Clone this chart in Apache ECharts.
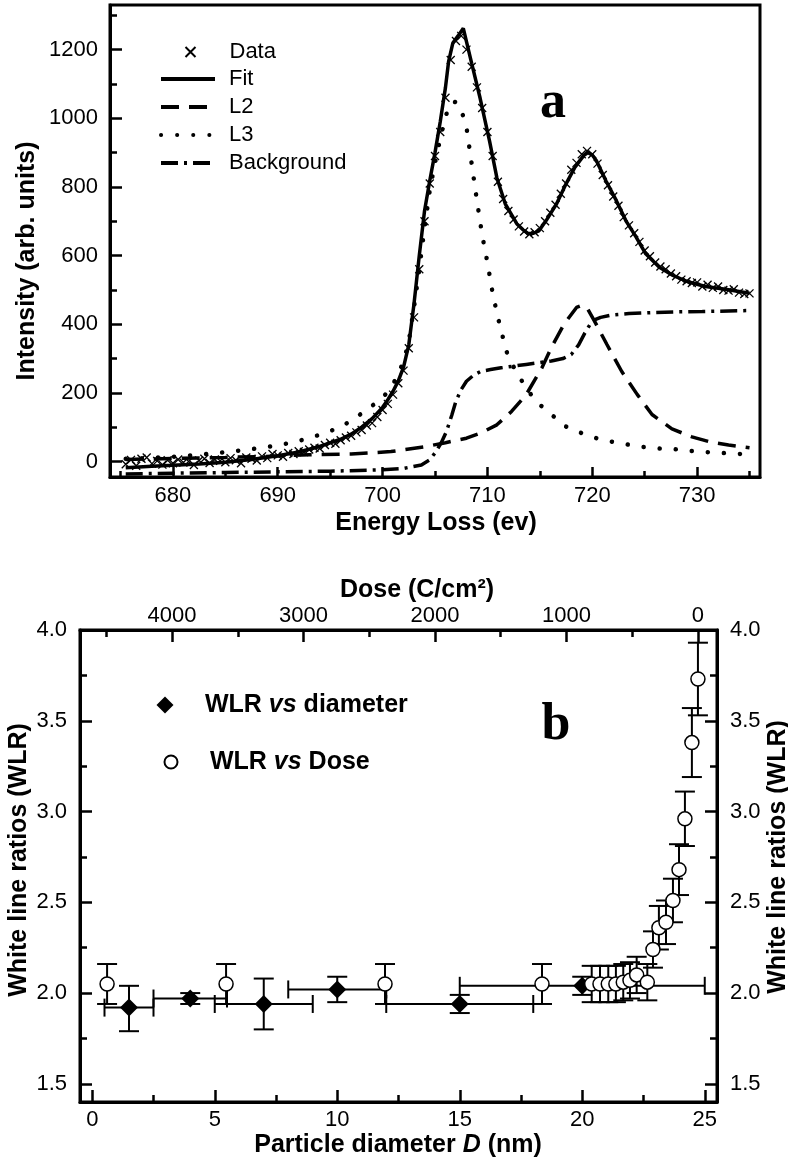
<!DOCTYPE html>
<html>
<head>
<meta charset="utf-8">
<script src="https://cdn.jsdelivr.net/npm/echarts@6/dist/echarts.min.js"></script>
<style>
  html, body { margin: 0; padding: 0; background: #fff; }
  #chart { width: 788px; height: 1161px; }
</style>
</head>
<body>
<div id="chart"></div>
<script>
// ---------- panel a : EELS L2,3 edge ----------
// measured points (x markers)
const dataE = [675.5, 676, 676.5, 677, 677.5, 678, 678.5, 679, 679.5, 680,
  680.5, 681, 681.5, 682, 682.5, 683, 683.5, 684, 684.5, 685,
  685.5, 686, 686.5, 687, 687.5, 688, 688.5, 689, 689.5, 690,
  690.5, 691, 691.5, 692, 692.5, 693, 693.5, 694, 694.5, 695,
  695.5, 696, 696.5, 697, 697.5, 698, 698.5, 699, 699.5, 700,
  700.5, 701, 701.5, 702, 702.5, 703, 703.5, 704, 704.5, 705,
  705.5, 706, 706.5, 707, 707.5, 708, 708.5, 709, 709.5, 710,
  710.5, 711, 711.5, 712, 712.5, 713, 713.5, 714, 714.5, 715,
  715.5, 716, 716.5, 717, 717.5, 718, 718.5, 719, 719.5, 720,
  720.5, 721, 721.5, 722, 722.5, 723, 723.5, 724, 724.5, 725,
  725.5, 726, 726.5, 727, 727.5, 728, 728.5, 729, 729.5, 730,
  730.5, 731, 731.5, 732, 732.5, 733, 733.5, 734, 734.5, 735];
const dataI = [-8, 5, -12, 8, 12, -6, 2, -9, 4, -5,
  6, -3, 0, -10, 3, 8, -4, 6, 2, -2,
  10, 4, -5, 12, 8, 3, 15, 10, 22, 18,
  14, 25, 22, 30, 28, 35, 40, 38, 48, 55,
  52, 62, 70, 75, 85, 92, 105, 112, 130, 150,
  168, 195, 228, 265, 330, 420, 560, 700, 810, 890,
  960, 1060, 1170, 1225, 1240, 1200, 1150, 1090, 1030, 960,
  890, 815, 765, 730, 705, 685, 670, 662, 668, 680,
  700, 725, 748, 780, 810, 850, 870, 895, 905, 895,
  868, 835, 805, 772, 745, 712, 688, 665, 640, 615,
  598, 580, 568, 560, 548, 540, 530, 525, 520, 522,
  510, 515, 506, 510, 500, 498, 502, 492, 488, 490];

// fit (solid)
const fitE = [675.5, 678, 680, 682.5, 685, 687.5, 690, 692, 694, 696, 697, 698, 699, 700, 700.5,
  701, 701.5, 702, 702.5, 703, 703.5, 704, 704.5, 705, 705.5, 706, 706.3, 706.7, 707.2, 707.7,
  708.5, 709.3, 710.2, 710.9, 711.7, 712.8, 713.4, 713.9, 714.4, 714.9,
  715.6, 716.6, 717.5, 718.3, 718.8, 719.2, 719.6, 720, 720.4, 721.3, 722.3, 723.2, 724.2,
  725.1, 726.4, 727.7, 729.2, 730.8, 732.7, 735];
const fitI = [-18, -14, -11, -7, -2, 6, 17, 28, 44, 65, 80, 100, 125, 158, 180,
  205, 235, 275, 340, 460, 600, 730, 818, 900, 990, 1090, 1166, 1219, 1240, 1262,
  1160, 1059, 934, 827, 751, 693, 675, 664, 665, 672,
  702, 751, 809, 855, 876, 892, 900, 893, 876, 818, 760, 702, 653,
  605, 566, 542, 523, 510, 502, 490];

// L2 (dashed)
const l2E = [675.5, 680, 685, 690, 693, 697, 700.8, 704.2, 706, 708,
  709.5, 710.9, 712.3, 713.7, 715.2, 716.1, 717.3, 718.5, 719, 719.5,
  720.2, 721.4, 722.8, 724.3, 725.7, 727.6, 729.5, 731.4, 733, 735];
const l2I = [6, 9, 12, 16, 20, 22, 29, 44, 55, 68,
  85, 107, 146, 195, 273, 332, 400, 449, 455, 448,
  410, 341, 263, 195, 137, 95, 72, 56, 48, 40];

// L3 (dotted)
const l3E = [675.5, 678, 680, 682.5, 685, 687.5, 690, 692, 694, 696,
  698, 700, 701, 702, 702.5, 703, 703.5, 704, 704.5, 705,
  705.5, 706, 706.5, 707, 707.5, 708, 708.5, 709, 709.5, 710,
  710.5, 711, 711.8, 712.7, 713.7, 714.6, 716.1, 717.5, 719.2, 720.8,
  722.9, 724.7, 726.4, 728.3, 730, 731.8, 733.5, 735];
const l3I = [8, 11, 14, 20, 27, 36, 47, 60, 78, 100,
  140, 185, 225, 290, 350, 450, 560, 680, 790, 870,
  940, 1005, 1045, 1048, 1025, 974, 867, 760, 660, 580,
  490, 420, 322, 263, 215, 176, 137, 102, 80, 64,
  52, 43, 38, 35, 29, 26, 23, 21];

// background (dash-dot)
const bgE = [675.5, 680, 685, 690, 695, 700, 702, 703.7, 704.5, 705.1,
  705.6, 706.1, 706.6, 707, 707.5, 708, 708.7, 709.4, 710.3, 711.3,
  713.7, 716.1, 717.2, 718, 718.7, 719.3, 720, 720.8, 721.9, 723.5,
  725.7, 728, 730.5, 735];
const bgI = [-36, -34, -32, -30, -28, -24, -20, -10, 5, 29,
  55, 88, 135, 176, 210, 234, 252, 263, 268, 273,
  283, 293, 300, 312, 340, 375, 410, 420, 427, 431,
  434, 436, 437, 440];

const energyTicks = [680, 690, 700, 710, 720, 730];
const energyMinor = [675, 685, 695, 705, 715, 725, 735];
const intensityTicks = [0, 200, 400, 600, 800, 1000, 1200];
const intensityMinor = [100, 300, 500, 700, 900, 1100, 1300];

// ---------- panel b : white line ratios ----------
const diaD = [1.5, 4.0, 7.0, 10.0, 15.0, 20.0];
const diaWLR = [1.92, 1.97, 1.94, 2.02, 1.94, 2.04];
const diaXErr = [1.0, 1.5, 2.0, 2.0, 3.0, 5.0];
const diaLo = [1.79, 1.94, 1.80, 1.95, 1.89, 1.99];
const diaHi = [2.04, 2.00, 2.08, 2.09, 1.99, 2.09];

const doseVal = [4494, 3589, 2380, 1186, 808, 745, 682, 624, 568, 517,
  466, 385, 342, 297, 243, 190, 144, 99, 46, 0];
const doseWLR = [2.05, 2.05, 2.05, 2.05, 2.05, 2.05, 2.05, 2.05, 2.06, 2.07,
  2.10, 2.06, 2.24, 2.36, 2.39, 2.51, 2.68, 2.96, 3.38, 3.73];
const doseErr = [0.11, 0.11, 0.11, 0.11, 0.10, 0.10, 0.10, 0.10, 0.10, 0.10,
  0.10, 0.10, 0.10, 0.12, 0.12, 0.12, 0.14, 0.15, 0.19, 0.20];

const diaTicks = [0, 5, 10, 15, 20, 25];
const diaMinor = [2.5, 7.5, 12.5, 17.5, 22.5];
const doseTicks = [0, 1000, 2000, 3000, 4000];
const doseMinor = [500, 1500, 2500, 3500, 4500];
const wlrTicks = [1.5, 2.0, 2.5, 3.0, 3.5, 4.0];
const wlrMinor = [1.75, 2.25, 2.75, 3.25, 3.75];

const FONT = 'Liberation Sans, Arial, Helvetica, sans-serif';
const SERIF = 'Liberation Serif, Times New Roman, serif';

const zip = (a, b) => a.map((v, i) => [v, b[i]]);

// one axis: ticks inside; labelMargin null -> only ticks (minor axis)
function tickAxis(grid, min, max, values, len, labelMargin, extra, fmt) {
  const hasLabels = labelMargin !== null;
  return Object.assign({
    type: 'value',
    gridIndex: grid,
    min: min,
    max: max,
    axisLine: { show: hasLabels, onZero: false, lineStyle: { color: '#000', width: 3 } },
    axisTick: { show: true, inside: true, length: len, customValues: values, lineStyle: { color: '#000', width: 2.5 } },
    axisLabel: {
      show: hasLabels,
      customValues: values,
      margin: hasLabels ? labelMargin : 8,
      color: '#000',
      fontSize: 22,
      fontFamily: FONT,
      formatter: fmt || ((v) => String(v))
    },
    splitLine: { show: false }
  }, extra || {});
}

const oneDecimal = (v) => v.toFixed(1);

// vertical error bar with caps
function renderYErr(params, api) {
  const x = api.value(0);
  const a = api.coord([x, api.value(1)]);
  const b = api.coord([x, api.value(2)]);
  const w = 10;
  const st = { stroke: '#000', lineWidth: 2 };
  return {
    type: 'group',
    children: [
      { type: 'line', shape: { x1: a[0], y1: a[1], x2: b[0], y2: b[1] }, style: st },
      { type: 'line', shape: { x1: a[0] - w, y1: a[1], x2: a[0] + w, y2: a[1] }, style: st },
      { type: 'line', shape: { x1: b[0] - w, y1: b[1], x2: b[0] + w, y2: b[1] }, style: st }
    ]
  };
}

// horizontal error bar with caps
function renderXErr(params, api) {
  const y = api.value(2);
  const a = api.coord([api.value(0), y]);
  const b = api.coord([api.value(1), y]);
  const h = 9;
  const st = { stroke: '#000', lineWidth: 2 };
  return {
    type: 'group',
    children: [
      { type: 'line', shape: { x1: a[0], y1: a[1], x2: b[0], y2: b[1] }, style: st },
      { type: 'line', shape: { x1: a[0], y1: a[1] - h, x2: a[0], y2: a[1] + h }, style: st },
      { type: 'line', shape: { x1: b[0], y1: b[1] - h, x2: b[0], y2: b[1] + h }, style: st }
    ]
  };
}

const chart = echarts.init(document.getElementById('chart'));

const lineBase = {
  type: 'line', xAxisIndex: 0, yAxisIndex: 0, symbol: 'none', showSymbol: false,
  itemStyle: { color: '#000' }, silent: true, z: 3
};
const richLegend = {
  b: { fontWeight: 'bold', fontSize: 25, fontFamily: FONT, color: '#000' },
  i: { fontWeight: 'bold', fontStyle: 'italic', fontSize: 25, fontFamily: FONT, color: '#000' }
};

const option = {
  backgroundColor: '#fff',
  animation: false,
  grid: [
    { left: 110, top: 5, width: 650, height: 472, show: true, borderColor: '#000', borderWidth: 3 },
    { left: 80, top: 630, width: 637, height: 472, show: true, borderColor: '#000', borderWidth: 3 }
  ],
  xAxis: [
    tickAxis(0, 674, 736, energyTicks, 10, 8, { position: 'bottom' }),
    tickAxis(0, 674, 736, energyMinor, 6, null, { position: 'bottom' }),
    tickAxis(1, -0.5, 25.5, diaTicks, 12, 7, { position: 'bottom' }),
    tickAxis(1, -0.5, 25.5, diaMinor, 7, null, { position: 'bottom' }),
    tickAxis(1, -145, 4700, doseTicks, 12, 3, { position: 'top', inverse: true }),
    tickAxis(1, -145, 4700, doseMinor, 7, null, { position: 'top', inverse: true })
  ],
  yAxis: [
    tickAxis(0, -45, 1330, intensityTicks, 12, 12, { position: 'left' }),
    tickAxis(0, -45, 1330, intensityMinor, 7, null, { position: 'left' }),
    tickAxis(1, 1.4, 4.0, wlrTicks, 12, 13, { position: 'left' }, oneDecimal),
    tickAxis(1, 1.4, 4.0, wlrMinor, 7, null, { position: 'left' }),
    tickAxis(1, 1.4, 4.0, wlrTicks, 12, 13, { position: 'right' }, oneDecimal),
    tickAxis(1, 1.4, 4.0, wlrMinor, 7, null, { position: 'right' })
  ],
  legend: [
    {
      data: ['Data'], orient: 'vertical', left: 183, top: 41, padding: 0,
      itemWidth: 10, itemHeight: 10, selectedMode: false,
      textStyle: { fontSize: 22, lineHeight: 22, fontFamily: FONT, color: '#000', padding: [0, 0, 0, 29] }
    },
    {
      data: ['Fit', 'L2', 'L3', 'Background'], orient: 'vertical', left: 159, top: 68, padding: 0,
      itemWidth: 54, itemHeight: 14, itemGap: 6, selectedMode: false,
      itemStyle: { opacity: 0 },
      lineStyle: { width: 4 },
      textStyle: { fontSize: 22, lineHeight: 22, fontFamily: FONT, color: '#000', padding: [0, 0, 0, 9] }
    },
    {
      data: ['WLR vs diameter'], left: 156.5, top: 692.5, padding: 0,
      itemWidth: 17, itemHeight: 17, selectedMode: false,
      formatter: () => '{b|WLR }{i|vs}{b| diameter}',
      textStyle: { fontSize: 25, lineHeight: 25, padding: [0, 0, 0, 26.5], rich: richLegend }
    },
    {
      data: ['WLR vs Dose'], left: 163.5, top: 749.5, padding: 0,
      itemWidth: 13, itemHeight: 13, selectedMode: false,
      formatter: () => '{b|WLR }{i|vs}{b| Dose}',
      textStyle: { fontSize: 25, lineHeight: 25, padding: [0, 0, 0, 27.5], rich: richLegend }
    }
  ],
  graphic: [
    { type: 'text', x: 553, y: 104, style: { text: 'a', fontFamily: SERIF, fontWeight: 'bold', fontSize: 52, fill: '#000', align: 'center', verticalAlign: 'middle' } },
    { type: 'text', x: 556, y: 726, style: { text: 'b', fontFamily: SERIF, fontWeight: 'bold', fontSize: 52, fill: '#000', align: 'center', verticalAlign: 'middle' } },
    { type: 'text', x: 27, y: 261, rotation: Math.PI / 2, style: { text: 'Intensity (arb. units)', fontFamily: FONT, fontWeight: 'bold', fontSize: 25, fill: '#000', align: 'center', verticalAlign: 'middle' } },
    { type: 'text', x: 436, y: 523, style: { text: 'Energy Loss (ev)', fontFamily: FONT, fontWeight: 'bold', fontSize: 25, fill: '#000', align: 'center', verticalAlign: 'middle' } },
    { type: 'text', x: 417, y: 590, style: { text: 'Dose (C/cm²)', fontFamily: FONT, fontWeight: 'bold', fontSize: 25, fill: '#000', align: 'center', verticalAlign: 'middle' } },
    { type: 'text', x: 19, y: 860, rotation: Math.PI / 2, style: { text: 'White line ratios (WLR)', fontFamily: FONT, fontWeight: 'bold', fontSize: 25, fill: '#000', align: 'center', verticalAlign: 'middle' } },
    { type: 'text', x: 778, y: 857, rotation: Math.PI / 2, style: { text: 'White line ratios (WLR)', fontFamily: FONT, fontWeight: 'bold', fontSize: 25, fill: '#000', align: 'center', verticalAlign: 'middle' } },
    {
      type: 'text', x: 398, y: 1145,
      style: {
        text: '{b|Particle diameter }{i|D}{b| (nm)}', align: 'center', verticalAlign: 'middle',
        rich: richLegend
      }
    }
  ],
  series: [
    {
      name: 'Data', type: 'scatter', xAxisIndex: 0, yAxisIndex: 0,
      symbol: 'path://M0,0L10,10M0,10L10,0', symbolSize: 8,
      itemStyle: { color: 'none', borderColor: '#000', borderWidth: 1.3, opacity: 1 },
      data: zip(dataE, dataI), z: 2, silent: true
    },
    Object.assign({ name: 'Fit', data: zip(fitE, fitI), lineStyle: { color: '#000', width: 3.5 } }, lineBase),
    Object.assign({ name: 'L2', data: zip(l2E, l2I), lineStyle: { color: '#000', width: 3.5, type: [18, 10] } }, lineBase),
    Object.assign({ name: 'L3', data: zip(l3E, l3I), lineStyle: { color: '#000', width: 4.5, type: [0.1, 16], cap: 'round' } }, lineBase),
    Object.assign({ name: 'Background', data: zip(bgE, bgI), lineStyle: { color: '#000', width: 3.5, type: [17, 6, 3, 6] } }, lineBase),

    // panel b error bars
    {
      type: 'custom', xAxisIndex: 2, yAxisIndex: 2, renderItem: renderXErr, silent: true, z: 1,
      data: diaD.map((d, i) => [d - diaXErr[i], d + diaXErr[i], diaWLR[i]])
    },
    {
      type: 'custom', xAxisIndex: 2, yAxisIndex: 2, renderItem: renderYErr, silent: true, z: 1,
      data: diaD.map((d, i) => [d, diaLo[i], diaHi[i]])
    },
    {
      type: 'custom', xAxisIndex: 4, yAxisIndex: 2, renderItem: renderYErr, silent: true, z: 1,
      data: doseVal.map((d, i) => [d, doseWLR[i] - doseErr[i], doseWLR[i] + doseErr[i]])
    },
    {
      name: 'WLR vs diameter', type: 'scatter', xAxisIndex: 2, yAxisIndex: 2,
      symbol: 'diamond', symbolSize: 18, itemStyle: { color: '#000', opacity: 1 },
      data: zip(diaD, diaWLR), z: 3, silent: true
    },
    {
      name: 'WLR vs Dose', type: 'scatter', xAxisIndex: 4, yAxisIndex: 2,
      symbol: 'circle', symbolSize: 14,
      itemStyle: { color: '#fff', borderColor: '#000', borderWidth: 1.5, opacity: 1 },
      data: zip(doseVal, doseWLR), z: 4, silent: true
    }
  ]
};

chart.setOption(option);
</script>
</body>
</html>
